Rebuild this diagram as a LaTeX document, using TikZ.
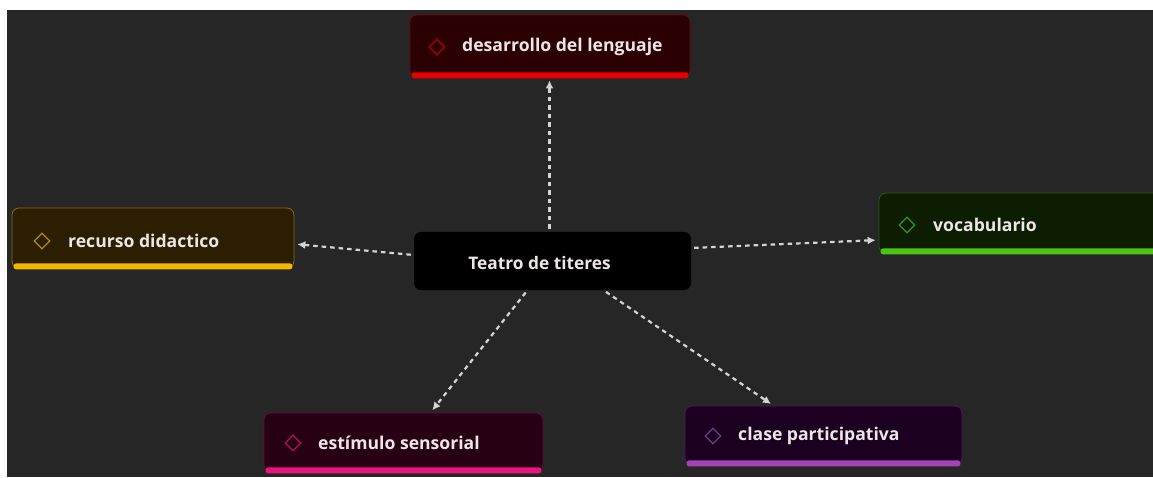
\documentclass[tikz,border=0pt]{standalone}
\usepackage{fontspec}
\setmainfont{Open Sans}
\usetikzlibrary{arrows.meta,shapes.geometric,calc}
\definecolor{bgc}{HTML}{262626}
\definecolor{txt}{HTML}{EDE6E6}
\definecolor{arr}{HTML}{D4D4D4}
\definecolor{redfill}{HTML}{2A0003}\definecolor{redline}{HTML}{6A0A0E}\definecolor{redbar}{HTML}{E80000}
\definecolor{yelfill}{HTML}{2C1E00}\definecolor{yelline}{HTML}{8C6C12}\definecolor{yelbar}{HTML}{F2B800}
\definecolor{grnfill}{HTML}{0D1D02}\definecolor{grnline}{HTML}{2E5614}\definecolor{grnbar}{HTML}{4CC414}
\definecolor{pnkfill}{HTML}{280014}\definecolor{pnkline}{HTML}{6A0A3C}\definecolor{pnkbar}{HTML}{EC1580}
\definecolor{purfill}{HTML}{1C0020}\definecolor{purline}{HTML}{52185C}\definecolor{purbar}{HTML}{A444B4}
\tikzset{
  topicbox/.style={draw=#1line, fill=#1fill, line width=0.8pt, rounded corners=7pt, minimum height=60pt, inner sep=0pt},
  icon/.style={draw=#1bar!75!black, diamond, line width=1.3pt, minimum width=16pt, minimum height=16pt, inner sep=0pt},
  topictext/.style={text=txt, font=\fontsize{17.6}{20}\selectfont\bfseries, anchor=west, inner sep=0pt},
  link/.style={draw=arr, line width=2.2pt, dash pattern=on 4.5pt off 4pt, -{Latex[length=8pt,width=8pt]}, shorten >=3pt, shorten <=3pt},
}
\newcommand{\topicbar}[2]{\fill[#2bar, rounded corners=2.5pt] ([xshift=2pt,yshift=-1pt]#1.south west) rectangle ([xshift=-2pt,yshift=5pt]#1.south east);}
\begin{document}
\begin{tikzpicture}[x=1pt,y=1pt]
\fill[white] (0,0) rectangle (1153,477);
\fill[bgc] (7,0) rectangle (1153,467);
\useasboundingbox (0,0) rectangle (1153,477);

% central
\node[fill=black, rounded corners=7pt, minimum width=277pt, minimum height=58pt, inner sep=0pt] (center) at (552.5,216) {};
\node[text=txt, font=\fontsize{17.3}{20}\selectfont\bfseries, inner sep=0pt] (centertext) at (539.5,214) {Teatro de titeres};

% desarrollo
\node[topicbox=red, minimum width=280pt, minimum height=62pt] (des) at (550,431) {};
\topicbar{des}{red}
\node[icon=red] (desicon) at (437,430) {};
\node[topictext] (destext) at (462,430) {desarrollo del lenguaje};

% recurso
\node[topicbox=yel, minimum width=282pt] (rec) at (153,239) {};
\topicbar{rec}{yel}
\node[icon=yel] (recicon) at (42,236) {};
\node[topictext] (rectext) at (68,236) {recurso didactico};

% vocabulario
\node[topicbox=grn, minimum width=282pt] (voc) at (1020,254) {};
\topicbar{voc}{grn}
\node[icon=grn] (vocicon) at (907,252) {};
\node[topictext] (voctext) at (933,252) {vocabulario};

% estimulo
\node[topicbox=pnk, minimum width=279pt, minimum height=59pt] (est) at (403.5,34.5) {};
\topicbar{est}{pnk}
\node[icon=pnk] (esticon) at (293,34) {};
\node[topictext] (esttext) at (318,34) {estímulo sensorial};

% clase
\node[topicbox=pur, minimum width=277pt, minimum height=59pt] (cla) at (823.5,41.5) {};
\topicbar{cla}{pur}
\node[icon=pur] (claicon) at (713,41) {};
\node[topictext] (clatext) at (738,41) {clase participativa};

% links
\draw[link] ([xshift=-3pt]center.north) -- ([xshift=-3pt]center.north |- des.south);
\draw[link] ([yshift=6pt]center.west) -- ([yshift=-6pt]rec.east);
\draw[link] ([yshift=13pt]center.east) -- ([yshift=-17pt]voc.west);
\draw[link] ([xshift=-25pt]center.south) -- ([xshift=27pt]est.north);
\draw[link] ([xshift=51pt]center.south) -- ([xshift=-50pt]cla.north);
\end{tikzpicture}
\end{document}
